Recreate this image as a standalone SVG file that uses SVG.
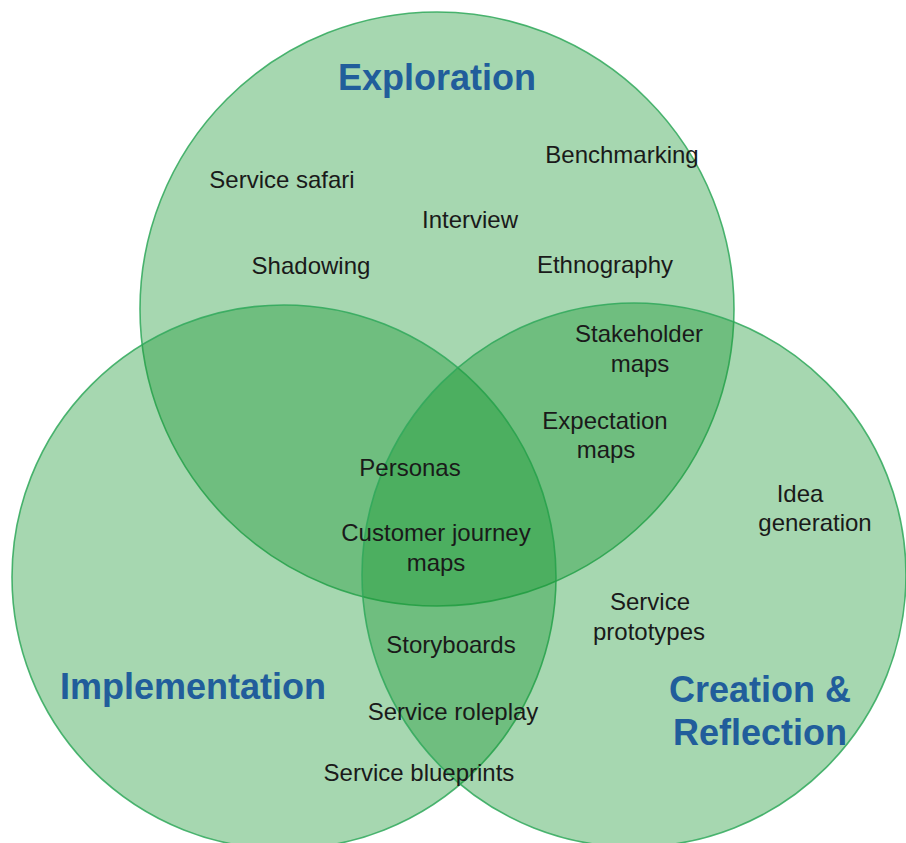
<svg xmlns="http://www.w3.org/2000/svg" width="906" height="843" viewBox="0 0 906 843">
<style>
.c{fill:#159530;fill-opacity:0.38;stroke:#2fa85a;stroke-width:1.6;stroke-opacity:0.85}
.t{font-family:"Liberation Sans",Arial,sans-serif;font-size:24px;fill:#1a1a1a;text-anchor:middle}
.h{font-family:"Liberation Sans",Arial,sans-serif;font-size:36px;font-weight:bold;fill:#215d9b;text-anchor:middle}
</style>
<rect width="906" height="843" fill="#ffffff"/>
<g id="exploration">
<circle class="c" cx="437" cy="309" r="297"/>
</g>
<g id="implementation">
<circle class="c" cx="284" cy="577" r="272"/>
</g>
<g id="creation">
<circle class="c" cx="634" cy="575" r="272"/>
</g>
<g id="connectors"></g>
<g id="labels">
<text class="h" x="437" y="90">Exploration</text>
<text class="h" x="193" y="699">Implementation</text>
<text class="h" x="760" y="702">Creation &amp;</text>
<text class="h" x="760" y="745">Reflection</text>
</g>
<g id="items">
<text class="t" x="622" y="163">Benchmarking</text>
<text class="t" x="282" y="188">Service safari</text>
<text class="t" x="470" y="228">Interview</text>
<text class="t" x="311" y="274">Shadowing</text>
<text class="t" x="605" y="273">Ethnography</text>
<text class="t" x="639" y="342">Stakeholder</text>
<text class="t" x="640" y="372">maps</text>
<text class="t" x="605" y="429">Expectation</text>
<text class="t" x="606" y="458">maps</text>
<text class="t" x="410" y="476">Personas</text>
<text class="t" x="436" y="541">Customer journey</text>
<text class="t" x="436" y="571">maps</text>
<text class="t" x="800" y="502">Idea</text>
<text class="t" x="815" y="531">generation</text>
<text class="t" x="650" y="610">Service</text>
<text class="t" x="649" y="640">prototypes</text>
<text class="t" x="451" y="653">Storyboards</text>
<text class="t" x="453" y="720">Service roleplay</text>
<text class="t" x="419" y="781">Service blueprints</text>
</g>
</svg>
